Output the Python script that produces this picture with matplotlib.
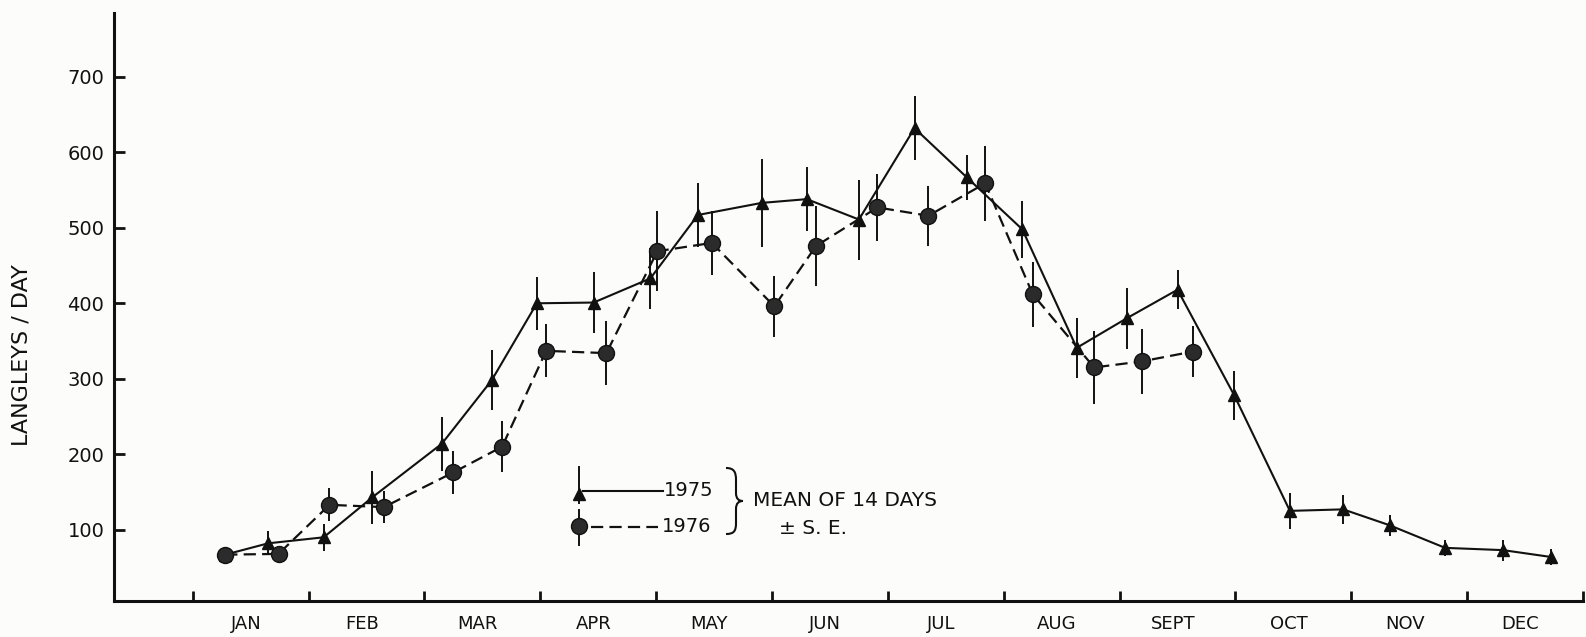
import matplotlib
matplotlib.use("Agg")
import matplotlib.pyplot as plt
from matplotlib.path import Path
from matplotlib.patches import PathPatch
from matplotlib.lines import Line2D

# 14-day mean solar radiation, x in months from Jan 1 (0 = start of JAN)
t_1975 = [0.28, 0.65, 1.13, 1.55, 2.15, 2.58, 2.97, 3.46, 3.95, 4.36, 4.91, 5.30, 5.75,
          6.23, 6.68, 7.16, 7.63, 8.06, 8.50, 8.99, 9.47, 9.93, 10.33, 10.81, 11.31, 11.72]
mean_1975 = [67, 82, 90, 143, 214, 298, 400, 401, 433, 517, 533, 538, 511,
             632, 567, 498, 341, 380, 418, 278, 125, 127, 106, 76, 73, 64]
se_1975 = [0, 16, 18, 35, 36, 40, 35, 41, 40, 42, 58, 42, 53,
           42, 30, 38, 40, 40, 26, 32, 24, 19, 14, 11, 14, 11]

t_1976 = [0.28, 0.74, 1.18, 1.65, 2.25, 2.67, 3.05, 3.57, 4.01, 4.48, 5.02, 5.38,
          5.91, 6.35, 6.84, 7.25, 7.78, 8.19, 8.63]
mean_1976 = [67, 68, 133, 130, 176, 210, 337, 334, 469, 480, 396, 476,
             527, 516, 559, 412, 315, 323, 336]
se_1976 = [0, 10, 22, 21, 28, 34, 35, 42, 53, 42, 40, 53,
           44, 40, 50, 43, 48, 43, 34]

months = ["JAN", "FEB", "MAR", "APR", "MAY", "JUN",
          "JUL", "AUG", "SEPT", "OCT", "NOV", "DEC"]
y_ticks = [100, 200, 300, 400, 500, 600, 700]

INK = "#111111"
W, H = 1586, 637


def fpx(x, y):
    # pixel position -> figure fraction
    return x / W, 1 - y / H


plt.rcParams["font.family"] = ["DejaVu Sans"]
fig = plt.figure(figsize=(W / 100, H / 100), dpi=100, facecolor="#fcfcfb")
ax = fig.add_axes([114 / W, 36.3 / H, 1469 / W, 588 / H])
ax.set_facecolor("none")

dash = (0, (5.5, 2.8))

# error bars (no caps)
ax.errorbar(t_1975, mean_1975, yerr=se_1975, fmt="none", ecolor=INK,
            elinewidth=1.4, capsize=0, zorder=2)
ax.errorbar(t_1976, mean_1976, yerr=se_1976, fmt="none", ecolor=INK,
            elinewidth=1.4, capsize=0, zorder=2)

# 1975: solid with triangles
ax.plot(t_1975, mean_1975, color=INK, lw=1.5, zorder=3)
ax.plot(t_1975, mean_1975, ls="none", marker="^", ms=9, color=INK,
        markeredgecolor=INK, zorder=4)

# 1976: dashed with filled circles
ax.plot(t_1976, mean_1976, color=INK, lw=1.6, ls=dash, zorder=3)
ax.plot(t_1976, mean_1976, ls="none", marker="o", ms=11.5, markerfacecolor="#2b2b2b",
        markeredgecolor=INK, markeredgewidth=1.0, zorder=5)

ax.set_xlim(-0.68, 12.0)
ax.set_ylim(6, 785)

for side in ("top", "right"):
    ax.spines[side].set_visible(False)
for side in ("left", "bottom"):
    ax.spines[side].set_linewidth(2.2)
    ax.spines[side].set_color(INK)

ax.set_xticks(range(13))
ax.set_xticklabels([])
ax.set_xticks([i + 0.46 for i in range(12)], minor=True)
ax.set_xticklabels(months, minor=True, fontsize=13)
ax.tick_params(axis="x", which="major", direction="in", length=7, width=2.0, color=INK)
ax.tick_params(axis="x", which="minor", length=0, pad=10, labelcolor=INK)

ax.set_yticks(y_ticks)
ax.set_yticklabels([str(v) for v in y_ticks], fontsize=14)
ax.tick_params(axis="y", direction="in", length=8, width=2.0, color=INK,
               pad=7, labelcolor=INK)

ax.set_ylabel("LANGLEYS / DAY", fontsize=16, color=INK)
ax.yaxis.set_label_coords(-0.056, 0.418)

# key drawn beside the curves
def fig_line(xs, ys, **kw):
    pts = [fpx(x, y) for x, y in zip(xs, ys)]
    fig.add_artist(Line2D([p[0] for p in pts], [p[1] for p in pts],
                          transform=fig.transFigure, color=INK, **kw))

fig_line([579, 579], [467, 503], lw=1.4)
fig_line([583, 663], [491, 491], lw=1.5)
fig_line([579], [494], ls="none", marker="^", ms=9, markeredgecolor=INK)
fig.text(*fpx(664, 490), "1975", fontsize=14, ha="left", va="center", color=INK)

fig_line([579, 579], [510, 545], lw=1.4)
fig_line([591, 658], [527, 527], lw=1.6, ls=dash)
fig_line([579], [526], ls="none", marker="o", ms=11.5, markerfacecolor="#2b2b2b",
         markeredgecolor=INK, markeredgewidth=1.0)
fig.text(*fpx(662, 526), "1976", fontsize=14, ha="left", va="center", color=INK)

brace_px = [(726, 468), (734, 468), (736, 472), (736, 480), (736, 493),
            (736, 499), (739, 501), (743, 501),
            (739, 501), (736, 503), (736, 509), (736, 523),
            (736, 531), (734, 534), (726, 534)]
codes = [Path.MOVETO, Path.CURVE4, Path.CURVE4, Path.CURVE4, Path.LINETO,
         Path.CURVE4, Path.CURVE4, Path.CURVE4,
         Path.CURVE4, Path.CURVE4, Path.CURVE4, Path.LINETO,
         Path.CURVE4, Path.CURVE4, Path.CURVE4]
brace = Path([fpx(x, y) for x, y in brace_px], codes)
fig.add_artist(PathPatch(brace, transform=fig.transFigure, fill=False,
                         lw=1.5, edgecolor=INK))

fig.text(*fpx(753, 501), "MEAN OF 14 DAYS", fontsize=14.5, ha="left", va="center",
         color=INK)
fig.text(*fpx(779, 528), "± S. E.", fontsize=14.5, ha="left", va="center", color=INK)

fig.savefig("out.png", dpi=100, facecolor=fig.get_facecolor())
plt.close(fig)
